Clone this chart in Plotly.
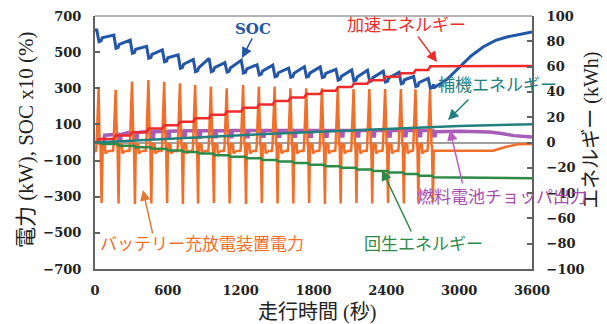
import plotly.graph_objects as go

# ---------------- data ----------------
# start time (s) of each repeated driving cycle
cycle_start = [0, 140, 275, 410, 540, 670, 795, 925, 1055, 1190, 1320, 1450,
               1580, 1710, 1840, 1970, 2100, 2230, 2360, 2490, 2610, 2730]

# battery charge/discharge device power (kW): positive and negative peak per cycle
bat_peak_pos = [300, 292, 338, 346, 336, 328, 318, 310, 300, 318, 310, 310,
                300, 300, 300, 298, 296, 296, 296, 296, 294, 292]
bat_peak_neg = [-335, -338, -340, -338, -335, -340, -338, -335, -338, -340, -335,
                -338, -338, -335, -340, -338, -335, -338, -335, -338, -335, -330]
# levels inside one cycle (offset s from cycle start -> kW); "P"/"N" = the peaks above
bat_cycle_off = [0, 8, 12, 30, 38, 42, 46, 54, 60, 64, 82, 86, 100]
bat_cycle_kw = [-45, -50, -20, "P", -10, -15, -20, "N", -60, -8, -12, -60, -50]
bat_tail_t = [2790, 3000, 3280, 3380, 3480, 3600]
bat_tail_kw = [-45, -45, -45, -25, -10, -8]

# fuel-cell chopper output (kW)
fc_head_t = [0, 70, 80]
fc_head_kw = [0, 0, 40]
fc_hi = [40, 45, 55, 60, 62, 65, 65, 65, 66, 66, 66, 66,
         66, 66, 66, 66, 66, 66, 66, 66, 66, 66]
fc_lo = [20, 20, 25, 28, 30, 30, 30, 32, 32, 32, 34, 34,
         35, 35, 35, 36, 36, 36, 36, 38, 38, 38]
fc_tail_t = [2790, 2800, 3000, 3250, 3350, 3450, 3600]
fc_tail_kw = [40, 60, 62, 58, 50, 38, 30]

# SOC x10 (%): local high before and low after each acceleration
soc_hi = [622, 595, 567, 532, 512, 485, 460, 465, 442, 455, 430, 428,
          412, 420, 418, 405, 402, 400, 395, 388, 365, 355]
soc_lo = [558, 521, 494, 466, 447, 411, 392, 392, 390, 385, 374, 364,
          361, 362, 360, 345, 340, 337, 335, 325, 310, 300]
soc_tail_t = [2790, 2900, 3000, 3100, 3200, 3300, 3400, 3500, 3600]
soc_tail = [302, 350, 415, 480, 530, 565, 585, 600, 612]

# acceleration energy (kWh), level after each cycle
acc_level = [2.7, 5.5, 8.2, 11.0, 13.7, 16.4, 19.2, 21.9, 24.6, 27.4, 30.1,
             32.8, 35.6, 38.3, 41.0, 43.8, 46.5, 49.2, 52.0, 54.7, 57.4, 60.2]
acc_end = 60.5
# regenerative energy (kWh), level after each cycle
reg_level = [-1.25, -2.5, -3.75, -5.0, -6.25, -7.5, -8.75, -10.0, -11.25, -12.5,
             -13.75, -15.0, -16.25, -17.5, -18.75, -20.0, -21.25, -22.5,
             -23.75, -25.0, -26.25, -27.5]
reg_end = -28.3
# auxiliary energy (kWh)
aux_t = [0, 600, 1200, 1800, 2400, 3000, 3600]
aux_kwh = [0, 3.0, 5.8, 8.3, 10.9, 13.0, 14.5]

x_ticks = [0, 600, 1200, 1800, 2400, 3000, 3600]
y_ticks = [-700, -500, -300, -100, 100, 300, 500, 700]
y2_ticks = [-100, -80, -60, -40, -20, 0, 20, 40, 60, 80, 100]

# ---------------- build the series ----------------
n = len(cycle_start)

bat_t, bat_v = [], []
for k, c in enumerate(cycle_start):
    for off, val in zip(bat_cycle_off, bat_cycle_kw):
        if k == n - 1 and off > 60:
            break
        if val == "P":
            val = bat_peak_pos[k]
        elif val == "N":
            val = bat_peak_neg[k]
        bat_t.append(c + off)
        bat_v.append(val)
bat_t += bat_tail_t
bat_v += bat_tail_kw

fc_t, fc_v = list(fc_head_t), list(fc_head_kw)
for k in range(1, n):
    c = cycle_start[k]
    fc_t += [c, c + 52, c + 56, c + 72, c + 76]
    fc_v += [fc_hi[k], fc_hi[k], fc_lo[k], fc_lo[k], fc_hi[k]]
fc_t += fc_tail_t
fc_v += fc_tail_kw

soc_t, soc_v = [0], [soc_hi[0]]
for k, c in enumerate(cycle_start):
    soc_t += [c + 15, c + 33, c + 50, c + 60]
    soc_v += [soc_hi[k], soc_lo[k], soc_lo[k] + 4, soc_lo[k] + 22]
soc_t += soc_tail_t
soc_v += soc_tail

acc_t, acc_v = [0], [0]
prev = 0
for k, c in enumerate(cycle_start):
    acc_t += [c + 14, c + 32]
    acc_v += [prev, acc_level[k]]
    prev = acc_level[k]
acc_t.append(3600)
acc_v.append(acc_end)

reg_t, reg_v = [0], [0]
prev = 0
for k, c in enumerate(cycle_start):
    reg_t += [c + 48, c + 60]
    reg_v += [prev, reg_level[k]]
    prev = reg_level[k]
reg_t.append(3600)
reg_v.append(reg_end)

# ---------------- colours ----------------
C_BLUE = "#2456a8"
C_RED = "#ee2b2b"
C_ORANGE = "#f26f2a"
C_PURPLE = "#a65db8"
C_GREEN = "#2f8a48"
C_TEAL = "#24807e"

fig = go.Figure()
fig.add_trace(go.Scatter(x=fc_t, y=fc_v, mode="lines",
                         line=dict(color=C_PURPLE, width=3.5), name="燃料電池チョッパ出力"))
fig.add_trace(go.Scatter(x=bat_t, y=bat_v, mode="lines",
                         line=dict(color=C_ORANGE, width=2.5), name="バッテリー充放電装置電力"))
fig.add_trace(go.Scatter(x=soc_t, y=soc_v, mode="lines",
                         line=dict(color=C_BLUE, width=3), name="SOC"))
fig.add_trace(go.Scatter(x=reg_t, y=reg_v, mode="lines", yaxis="y2",
                         line=dict(color=C_GREEN, width=2.5), name="回生エネルギー"))
fig.add_trace(go.Scatter(x=acc_t, y=acc_v, mode="lines", yaxis="y2",
                         line=dict(color=C_RED, width=2.5), name="加速エネルギー"))
fig.add_trace(go.Scatter(x=aux_t, y=aux_kwh, mode="lines", yaxis="y2",
                         line=dict(color=C_TEAL, width=2.5), name="補機エネルギー"))

tick_font = dict(family="DejaVu Serif", size=13, color="#222", weight="bold")
AX = "#626262"

fig.update_layout(
    width=607, height=324,
    margin=dict(l=95, r=75, t=16, b=55),
    paper_bgcolor="white", plot_bgcolor="white",
    showlegend=False,
    xaxis=dict(range=[0, 3600], tickvals=x_ticks, ticks="", showgrid=False,
               zeroline=False, showline=True, linecolor=AX, linewidth=2,
               tickfont=tick_font, ticklabelstandoff=8, automargin=False),
    yaxis=dict(range=[-700, 700], tickvals=y_ticks, ticks="inside", ticklen=5,
               tickcolor=AX, tickwidth=1.5, showgrid=False,
               zeroline=True, zerolinecolor="#a0a0a0", zerolinewidth=1.5,
               showline=True, linecolor=AX, linewidth=2,
               tickfont=tick_font, ticklabelstandoff=9, automargin=False),
    yaxis2=dict(range=[-100, 100], tickvals=y2_ticks, overlaying="y", side="right",
                ticks="inside", ticklen=5, tickcolor=AX, tickwidth=1.5,
                showgrid=False, zeroline=False, showline=True, linecolor=AX,
                linewidth=2, tickfont=tick_font, ticklabelstandoff=10,
                automargin=False),
    shapes=[dict(type="line", xref="paper", yref="paper", x0=0, x1=1, y0=1, y1=1,
                 line=dict(color="#9a9a9a", width=1.5))],
)

title_font = dict(family="Liberation Serif, Noto Sans CJK JP", size=20, color="#222")
ytitle_font = dict(family="Liberation Serif, Noto Sans CJK JP", size=21, color="#222")
lab_font = "Noto Sans CJK JP"
C = dict(xanchor="center", yanchor="middle", showarrow=False)

annos = [
    # axis titles
    dict(text="走行時間 (秒)", x=0.508, y=-0.172, xref="paper", yref="paper",
         font=title_font, **C),
    dict(text="電力 (kW), SOC x10 (%)", x=-0.158, y=0.51, xref="paper", yref="paper",
         textangle=-90, font=ytitle_font, **C),
    dict(text="エネルギー (kWh)", x=1.137, y=0.55, xref="paper", yref="paper",
         textangle=-90, font=title_font, **C),
    # series labels
    dict(text="<b>SOC</b>", x=1302, y=628,
         font=dict(family="DejaVu Serif", size=15, color=C_BLUE), **C),
    dict(text="加速エネルギー", x=2562, y=656,
         font=dict(family=lab_font, size=17, color=C_RED), **C),
    dict(text="補機エネルギー", x=3312, y=329,
         font=dict(family=lab_font, size=17, color=C_TEAL), **C),
    dict(text="燃料電池チョッパ出力", x=3353, y=-296,
         font=dict(family=lab_font, size=17, color="#a64fb0"), **C),
    dict(text="回生エネルギー", x=2710, y=-556,
         font=dict(family=lab_font, size=17, color=C_GREEN), **C),
    dict(text="バッテリー充放電装置電力", x=881, y=-556,
         font=dict(family=lab_font, size=17, color=C_ORANGE), **C),
]
arrows = [
    (1211, 468, 11, -21, C_BLUE),
    (2817, 445, -20, -27, C_RED),
    (2908, 125, 22, -22, C_TEAL),
    (2924, 69, 13, 55, "#b760c0"),
    (2364, -152, 30, 63, C_GREEN),
    (395, -263, 10, 45, "#e07a3a"),
]
for x, y, ax, ay, col in arrows:
    annos.append(dict(text="", x=x, y=y, xref="x", yref="y", ax=ax, ay=ay,
                      showarrow=True, arrowhead=2, arrowsize=1.4, arrowwidth=1.5,
                      arrowcolor=col, standoff=0))
fig.update_layout(annotations=annos)

fig.write_html("out.html", config={"displayModeBar": False},
               post_script="document.body.style.margin='0';")
